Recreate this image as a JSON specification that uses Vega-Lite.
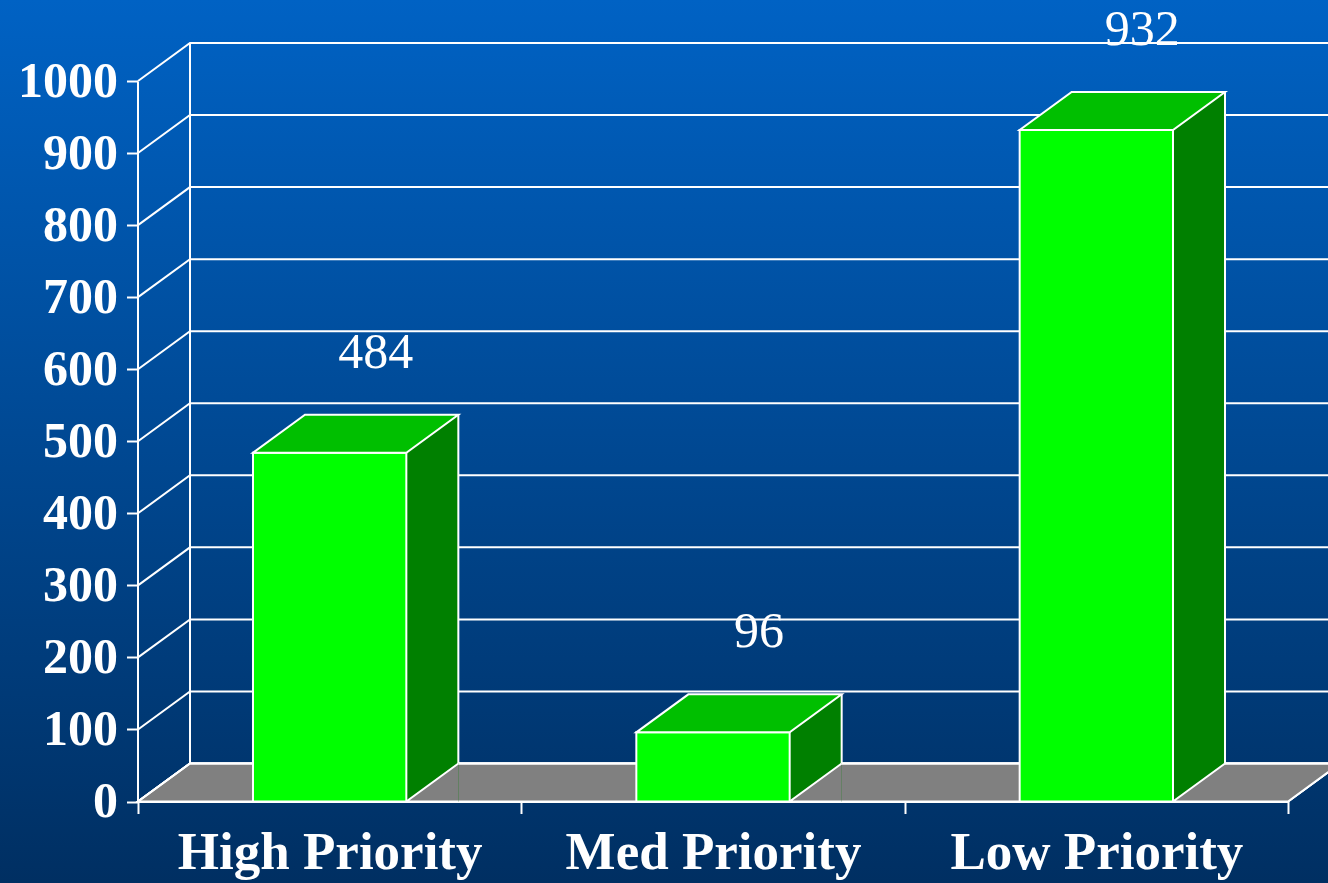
{
  "$schema": "https://vega.github.io/schema/vega-lite/v6.json",
  "width": 1328,
  "height": 883,
  "autosize": {"type": "none"},
  "padding": 0,
  "background": "#004a94",
  "config": {
    "view": {
      "stroke": null,
      "fill": {"gradient": "linear", "x1": 0, "y1": 0, "x2": 0, "y2": 1,
        "stops": [{"offset": 0, "color": "#0062C4"}, {"offset": 1, "color": "#002F62"}]}
    },
    "font": "Liberation Serif"
  },
  "datasets": {
    "counts": [
      {"priority": "High Priority", "count": 484},
      {"priority": "Med Priority", "count": 96},
      {"priority": "Low Priority", "count": 932}
    ],
    "grid": [
      {"v": 0}, {"v": 100}, {"v": 200}, {"v": 300}, {"v": 400}, {"v": 500},
      {"v": 600}, {"v": 700}, {"v": 800}, {"v": 900}, {"v": 1000}
    ]
  },
  "data": {"name": "counts"},
  "layer": [
    {
      "mark": {"type": "point", "shape": "M0,0 L1150,0 L1202,-38 L52,-38 Z", "size": 4, "filled": true, "fill": "#808080", "stroke": "white", "strokeWidth": 2, "opacity": 1},
      "encoding": {
        "x": {"datum": "High Priority", "type": "nominal", "bandPosition": 0,
          "scale": {"domain": ["High Priority", "Med Priority", "Low Priority"], "range": [138, 1288], "paddingInner": 0, "paddingOuter": 0},
          "axis": {"orient": "bottom", "offset": -81.5, "title": null, "domainColor": "white", "domainWidth": 2, "tickColor": "white", "tickWidth": 2, "tickSize": 12, "tickBand": "extent", "labelColor": "white", "labelFont": "Liberation Serif", "labelFontWeight": "bold", "labelFontSize": 53, "labelPadding": 13, "labelLimit": 1000, "labelAngle": 0}},
        "y": {"datum": 0, "type": "quantitative",
          "scale": {"domain": [0, 1000], "range": [801.5, 81], "nice": false, "zero": false},
          "axis": {"orient": "left", "offset": -137.5, "values": [0, 100, 200, 300, 400, 500, 600, 700, 800, 900, 1000], "format": "d", "title": null, "grid": false, "domainColor": "white", "domainWidth": 2, "tickColor": "white", "tickWidth": 2, "tickSize": 11, "labelColor": "white", "labelFont": "Liberation Serif", "labelFontWeight": "bold", "labelFontSize": 50, "labelPadding": 9}}
      }
    },
    {
      "data": {"name": "grid"},
      "mark": {"type": "point", "shape": "M0,0 L52,-38 L1300,-38", "size": 4, "filled": false, "fill": "transparent", "stroke": "white", "strokeWidth": 2, "opacity": 1},
      "encoding": {
        "x": {"datum": "High Priority", "type": "nominal", "bandPosition": 0},
        "y": {"field": "v", "type": "quantitative"}
      }
    },
    {
      "data": {"name": "grid"},
      "mark": {"type": "rule", "color": "white", "strokeWidth": 2, "xOffset": 52, "yOffset": -38, "y2Offset": -38},
      "encoding": {
        "x": {"datum": "High Priority", "type": "nominal", "bandPosition": 0},
        "y": {"aggregate": "min", "field": "v", "type": "quantitative"},
        "y2": {"aggregate": "max", "field": "v"}
      }
    },
    {
      "mark": {"type": "bar", "width": 52, "xOffset": 102.67, "yOffset": -38, "fill": "#008000", "stroke": null, "opacity": 1},
      "encoding": {
        "x": {"field": "priority", "type": "nominal"},
        "y": {"field": "count", "type": "quantitative"},
        "y2": {"datum": 0}
      }
    },
    {
      "mark": {"type": "point", "shape": "M128.67,0 L76.67,0 L128.67,-38", "size": 4, "filled": true, "fill": "#808080", "stroke": "white", "strokeWidth": 2, "opacity": 1},
      "encoding": {
        "x": {"field": "priority", "type": "nominal"},
        "y": {"datum": 0, "type": "quantitative"}
      }
    },
    {
      "mark": {"type": "rule", "color": "white", "strokeWidth": 2, "xOffset": 128.67, "yOffset": -38, "y2Offset": -38},
      "encoding": {
        "x": {"field": "priority", "type": "nominal"},
        "y": {"field": "count", "type": "quantitative"},
        "y2": {"datum": 0}
      }
    },
    {
      "mark": {"type": "bar", "width": {"band": 0.4}, "fill": "#00FF00", "stroke": "white", "strokeWidth": 2, "opacity": 1},
      "encoding": {
        "x": {"field": "priority", "type": "nominal"},
        "y": {"field": "count", "type": "quantitative"},
        "y2": {"datum": 0}
      }
    },
    {
      "mark": {"type": "point", "shape": "M-76.67,0 L76.67,0 L128.67,-38 L-24.67,-38 Z", "size": 4, "filled": true, "fill": "#00BF00", "stroke": "white", "strokeWidth": 2, "opacity": 1},
      "encoding": {
        "x": {"field": "priority", "type": "nominal"},
        "y": {"field": "count", "type": "quantitative"}
      }
    },
    {
      "mark": {"type": "text", "dx": 46, "dy": -85, "baseline": "alphabetic", "align": "center", "font": "Liberation Serif", "fontSize": 50, "color": "white"},
      "encoding": {
        "x": {"field": "priority", "type": "nominal"},
        "y": {"field": "count", "type": "quantitative"},
        "text": {"field": "count", "type": "quantitative"}
      }
    }
  ]
}
